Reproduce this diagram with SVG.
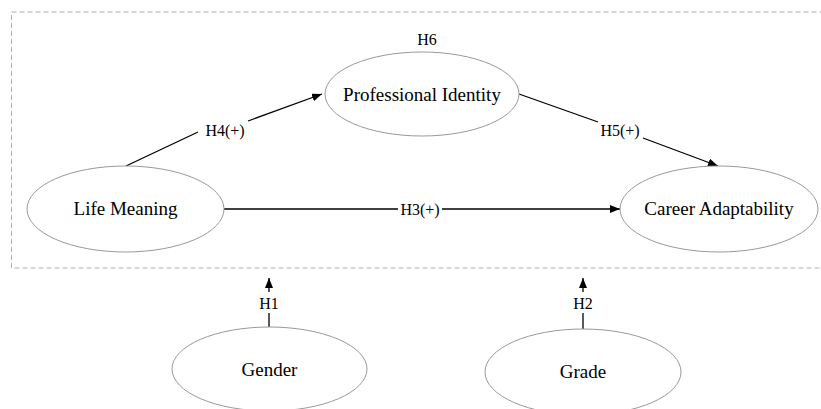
<svg xmlns="http://www.w3.org/2000/svg" width="821" height="409" viewBox="0 0 821 409">
<defs>
<marker id="arr" viewBox="0 0 10 8" refX="10" refY="4" markerWidth="10" markerHeight="8" markerUnits="userSpaceOnUse" orient="auto">
<path d="M0,0 L10,4 L0,8 Z" fill="#000"/>
</marker>
<style>
.node{fill:#fff;stroke:#999;stroke-width:1}
.lbl{font-family:"Liberation Serif","Times New Roman",serif;font-size:19px;fill:#000;text-anchor:middle}
.h{font-family:"Liberation Serif","Times New Roman",serif;font-size:16px;fill:#000;text-anchor:middle}
.c{stroke:#000;stroke-width:1.3;fill:none}
.frame{fill:none;stroke:#b0b0b0;stroke-width:1;stroke-dasharray:5,3}
</style>
</defs>
<rect width="821" height="409" fill="#fff"/>
<rect class="frame" x="11.5" y="12" width="820" height="256"/>
<g id="connectors">
<line class="c" x1="126" y1="166" x2="198" y2="132"/>
<line class="c" x1="248" y1="121" x2="322" y2="94" marker-end="url(#arr)"/>
<text class="h" x="225" y="136">H4(+)</text>
<line class="c" x1="519" y1="94" x2="598" y2="122"/>
<line class="c" x1="643" y1="138" x2="718" y2="166" marker-end="url(#arr)"/>
<text class="h" x="620" y="136">H5(+)</text>
<line class="c" x1="224" y1="209" x2="398" y2="209"/>
<line class="c" x1="442" y1="209" x2="620" y2="209" marker-end="url(#arr)"/>
<text class="h" x="420" y="214.5">H3(+)</text>
<line class="c" x1="269" y1="327" x2="269" y2="313"/>
<line class="c" x1="269" y1="292" x2="269" y2="278" marker-end="url(#arr)"/>
<text class="h" x="269" y="309">H1</text>
<line class="c" x1="583" y1="329" x2="583" y2="313"/>
<line class="c" x1="583" y1="292" x2="583" y2="278" marker-end="url(#arr)"/>
<text class="h" x="583" y="309">H2</text>
</g>
<g id="professional-identity">
<ellipse class="node" cx="422" cy="94" rx="97" ry="42"/>
<text class="lbl" x="422" y="101">Professional Identity</text>
<text class="h" x="427" y="45">H6</text>
</g>
<g id="life-meaning">
<ellipse class="node" cx="125.5" cy="209" rx="98.5" ry="43"/>
<text class="lbl" x="125.5" y="215">Life Meaning</text>
</g>
<g id="career-adaptability">
<ellipse class="node" cx="719" cy="209" rx="99" ry="43"/>
<text class="lbl" x="719" y="215">Career Adaptability</text>
</g>
<g id="gender">
<ellipse class="node" cx="269.5" cy="369" rx="97.5" ry="42"/>
<text class="lbl" x="269.5" y="376">Gender</text>
</g>
<g id="grade">
<ellipse class="node" cx="583" cy="372" rx="98" ry="43"/>
<text class="lbl" x="583" y="378">Grade</text>
</g>
</svg>
